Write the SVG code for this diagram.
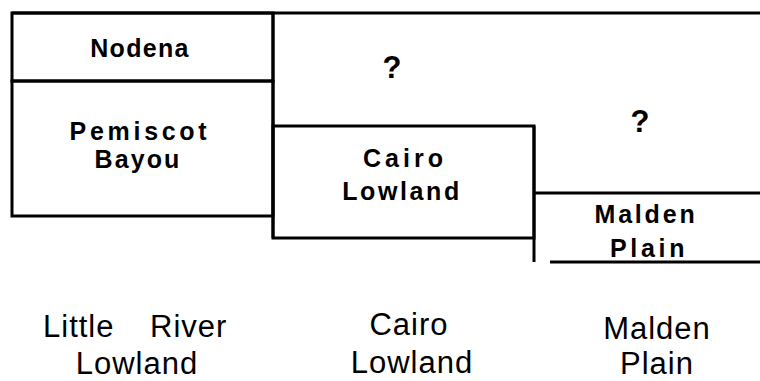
<svg xmlns="http://www.w3.org/2000/svg" width="760" height="381" viewBox="0 0 760 381">
<style>
.ln{stroke:#000;stroke-width:3;fill:none}
.b{font-family:"Liberation Sans",Arial,sans-serif;font-weight:bold;font-size:25px;text-anchor:middle;fill:#000}
.q{font-family:"Liberation Sans",Arial,sans-serif;font-weight:bold;font-size:31px;text-anchor:middle;fill:#000}
.r{font-family:"Liberation Sans",Arial,sans-serif;font-size:31px;letter-spacing:1px;fill:#000}
.m{text-anchor:middle}
</style>
<rect width="760" height="381" fill="#fff"/>
<g id="connectors">
<path class="ln" d="M12,13 H760"/>
<path class="ln" d="M273,13 V238"/>
<path class="ln" d="M534,126 V262"/>
<path class="ln" d="M534,193 H760"/>
<path class="ln" d="M550,262 H760"/>
</g>
<g id="nodena">
<rect class="ln" x="12" y="13" width="261" height="68"/>
<text class="b" x="140" y="57" letter-spacing="1.3">Nodena</text>
</g>
<g id="pemiscot">
<rect class="ln" x="12" y="81" width="261" height="135"/>
<text class="b" x="140" y="140" letter-spacing="3.7">Pemiscot</text>
<text class="b" x="138" y="168" letter-spacing="2.1">Bayou</text>
</g>
<g id="q1"><text class="q" x="392" y="78">?</text></g>
<g id="q2"><text class="q" x="640" y="132">?</text></g>
<g id="cairo">
<rect class="ln" x="273" y="126" width="261" height="112"/>
<text class="b" x="405" y="167" letter-spacing="4">Cairo</text>
<text class="b" x="402" y="200" letter-spacing="2.6">Lowland</text>
</g>
<g id="malden">
<text class="b" x="646" y="223" letter-spacing="2.8">Malden</text>
<text class="b" x="649" y="257" letter-spacing="3.7">Plain</text>
</g>
<g id="labels">
<text class="r" x="43" y="337">Little</text>
<text class="r" x="150" y="337">River</text>
<text class="r m" x="137" y="374">Lowland</text>
<text class="r m" x="409" y="335">Cairo</text>
<text class="r m" x="412" y="373">Lowland</text>
<text class="r m" x="657" y="339">Malden</text>
<text class="r m" x="657" y="374">Plain</text>
</g>
</svg>
